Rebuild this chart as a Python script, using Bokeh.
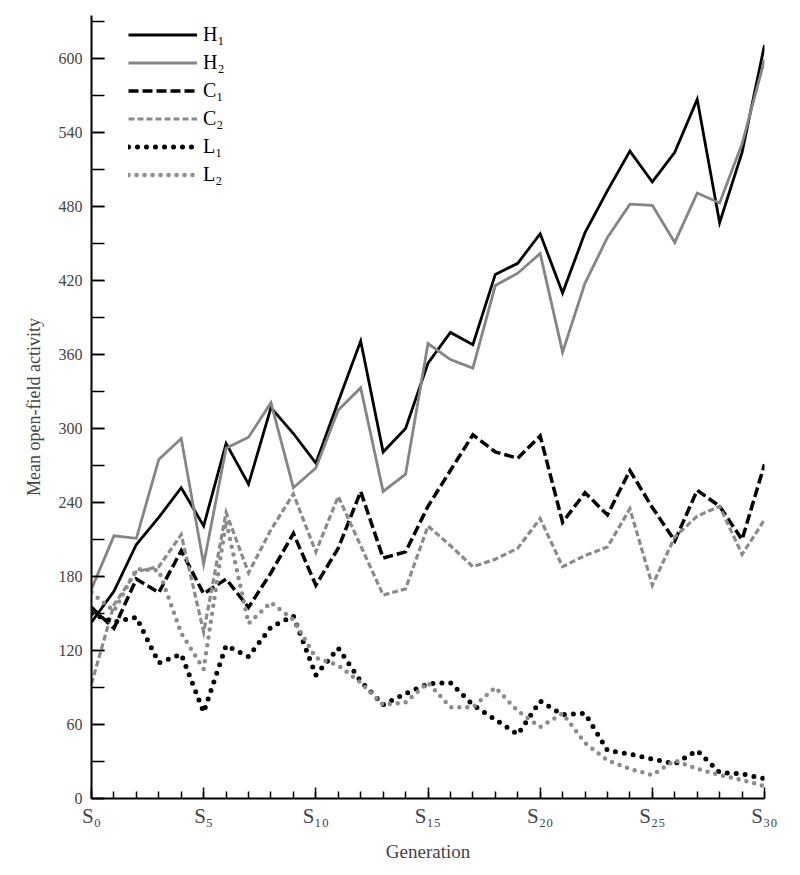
from bokeh.plotting import figure
from bokeh.models import Legend, LegendItem, FixedTicker, SingleIntervalTicker, Range1d
from bokeh.embed import file_html
from bokeh.resources import INLINE

# ---- data ----
generations = list(range(31))
H1 = [143, 168, 206, 228, 252, 221, 288, 255, 317, 296, 272, 322, 371, 281, 300, 353,
      378, 368, 425, 434, 458, 410, 459, 493, 525, 500, 524, 567, 467, 524, 611]
H2 = [170, 213, 211, 275, 292, 190, 284, 293, 321, 252, 268, 315, 333, 249, 263, 369,
      356, 349, 416, 426, 442, 362, 418, 455, 482, 481, 451, 491, 483, 531, 599]
C1 = [155, 138, 178, 167, 201, 166, 178, 155, 183, 215, 173, 203, 249, 195, 200, 237,
      266, 295, 281, 276, 294, 224, 248, 230, 266, 236, 209, 250, 237, 210, 271]
C2 = [93, 157, 184, 188, 214, 135, 232, 183, 218, 247, 200, 245, 205, 165, 170, 221,
      205, 188, 194, 203, 227, 188, 197, 204, 235, 173, 212, 229, 237, 198, 226]
L1 = [150, 143, 147, 110, 117, 70, 124, 115, 139, 148, 100, 122, 95, 76, 85, 93,
      94, 76, 64, 52, 79, 68, 69, 39, 36, 32, 28, 39, 21, 20, 16]
L2 = [167, 152, 186, 185, 134, 105, 225, 142, 159, 145, 114, 108, 94, 76, 78, 94,
      74, 74, 90, 71, 58, 69, 45, 31, 24, 19, 31, 24, 19, 15, 10]

series_names = ["H\u2081", "H\u2082", "C\u2081", "C\u2082", "L\u2081", "L\u2082"]
x_tick_values = [0, 5, 10, 15, 20, 25, 30]
x_tick_labels = ["S\u2080", "S\u2085", "S\u2081\u2080", "S\u2081\u2085", "S\u2082\u2080", "S\u2082\u2085", "S\u2083\u2080"]

FONT = "Liberation Serif"

p = figure(width=790, height=864, x_range=Range1d(0, 30), y_range=Range1d(0, 635),
           output_backend="svg", toolbar_location=None,
           min_border_left=91, min_border_right=26, min_border_top=15, min_border_bottom=59)
p.outline_line_color = None
p.grid.visible = False
p.background_fill_color = "white"

styles = [
    dict(line_color="#000000", line_width=2.8),
    dict(line_color="#858585", line_width=2.8),
    dict(line_color="#000000", line_width=3.5, line_dash="10 4"),
    dict(line_color="#8a8a8a", line_width=3.2, line_dash="6 3"),
    dict(line_color="#000000", line_width=5, line_dash="0 9", line_cap="round"),
    dict(line_color="#8c8c8c", line_width=4.5, line_dash="0 8", line_cap="round"),
]
renderers = []
for ys, st in zip([H1, H2, C1, C2, L1, L2], styles):
    r = p.line(generations, ys, line_join="miter", **st)
    renderers.append(r)

legend = Legend(items=[LegendItem(label=n, renderers=[r]) for n, r in zip(series_names, renderers)],
                location=(37, 612), padding=10, margin=0, spacing=5,
                glyph_width=69, glyph_height=23, label_height=23, label_standoff=6,
                label_text_font=FONT, label_text_font_size="20px", label_text_color="black",
                border_line_color=None, background_fill_alpha=0)
p.add_layout(legend)

# x axis
xa = p.xaxis[0]
xa.ticker = FixedTicker(ticks=x_tick_values, minor_ticks=generations)
xa.major_label_overrides = {v: l for v, l in zip(x_tick_values, x_tick_labels)}
xa.major_tick_in = 11
xa.major_tick_out = 0
xa.minor_tick_in = 7
xa.minor_tick_out = 0
xa.axis_line_width = 2
xa.major_tick_line_width = 1.5
xa.minor_tick_line_width = 1.5
xa.major_label_text_font = FONT
xa.major_label_text_font_size = "21px"
xa.major_label_standoff = 5
xa.axis_label = "Generation"
xa.axis_label_text_font = FONT
xa.axis_label_text_font_size = "19px"
xa.axis_label_text_font_style = "normal"
xa.axis_label_standoff = 10

# y axis
ya = p.yaxis[0]
ya.ticker = SingleIntervalTicker(interval=60, num_minor_ticks=2)
ya.major_tick_in = 13
ya.major_tick_out = 0
ya.minor_tick_in = 13
ya.minor_tick_out = 0
ya.axis_line_width = 2
ya.major_tick_line_width = 1.5
ya.minor_tick_line_width = 1.5
ya.major_label_text_font = FONT
ya.major_label_text_font_size = "16px"
ya.major_label_standoff = 9
ya.axis_label = "Mean open-field activity"
ya.axis_label_text_font = FONT
ya.axis_label_text_font_size = "18px"
ya.axis_label_text_font_style = "normal"
ya.axis_label_standoff = 12

open("out.html", "w").write(file_html(p, INLINE))
